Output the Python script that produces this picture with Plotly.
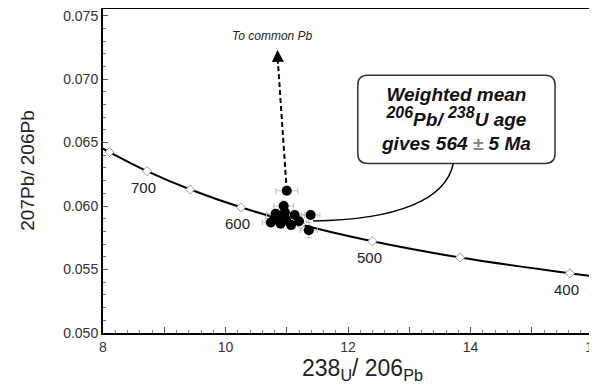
import plotly.graph_objects as go

# Concordia reference points (Tera-Wasserburg)
conc_age = [760, 750, 700, 650, 600, 550, 500, 450, 400, 391]
conc_x = [8.00, 8.105, 8.718, 9.426, 10.252, 11.228, 12.399, 13.831, 15.621, 16.00]
conc_y = [0.06453, 0.06425, 0.06275, 0.06130, 0.05990, 0.05854, 0.05722, 0.05594, 0.05470, 0.05447]
marked_ages = [750, 700, 650, 600, 550, 500, 450, 400]
labelled_ages = [700, 600, 500, 400]

# Zircon analyses
pt_x = [11.00, 10.95, 10.82, 10.97, 11.13, 11.39, 10.74, 10.90, 11.07, 11.36, 10.88, 10.99, 10.80, 11.20]
pt_y = [0.0612, 0.0600, 0.0594, 0.0595, 0.0593, 0.0593, 0.0587, 0.0586, 0.0585, 0.0581, 0.0591, 0.0589, 0.0590, 0.0588]
pt_ex = [0.18, 0.16, 0.15, 0.16, 0.16, 0.15, 0.14, 0.15, 0.15, 0.14, 0.15, 0.15, 0.15, 0.16]
pt_ey = [0.0003, 0.0004, 0.0003, 0.0003, 0.0003, 0.0003, 0.0003, 0.0003, 0.0003, 0.0006, 0.0003, 0.0003, 0.0003, 0.0003]

x_ticks = [8, 9, 10, 11, 12, 13, 14, 15, 16]
x_ticktext = ["8", "", "10", "", "12", "", "14", "", "16"]
y_ticks = [0.050, 0.055, 0.060, 0.065, 0.070, 0.075]

fig = go.Figure()

fig.add_trace(go.Scatter(
    x=conc_x, y=conc_y, mode="lines", line=dict(color="black", width=2, shape="spline"),
    hoverinfo="skip", showlegend=False))

mx = [conc_x[conc_age.index(a)] for a in marked_ages]
my = [conc_y[conc_age.index(a)] for a in marked_ages]
fig.add_trace(go.Scatter(
    x=mx, y=my, mode="markers",
    marker=dict(symbol="diamond", size=7, color="white", line=dict(color="#999", width=1)),
    showlegend=False))

fig.add_trace(go.Scatter(
    x=pt_x, y=pt_y, mode="markers",
    marker=dict(size=10, color="black"),
    error_x=dict(type="data", array=pt_ex, color="#bbb", thickness=1, width=3),
    error_y=dict(type="data", array=pt_ey, color="#bbb", thickness=1, width=3),
    showlegend=False))

for a in labelled_ages:
    i = conc_age.index(a)
    fig.add_annotation(x=conc_x[i], y=conc_y[i], text=str(a), showarrow=False,
                       yshift=-16, xshift=-3, font=dict(size=15, color="#222"))

# dashed line to common Pb
fig.add_shape(type="line", x0=pt_x[0], y0=pt_y[0], x1=10.858, y1=0.0712,
              line=dict(color="black", width=2, dash="5px,3px"))
fig.add_annotation(x=10.85, y=0.0723, ax=10.857, ay=0.0711, axref="x", ayref="y",
                   showarrow=True, arrowhead=2, arrowsize=1.2, arrowwidth=2, text="",
                   arrowcolor="black")
fig.add_annotation(x=10.77, y=0.0734, text="<i>To common Pb</i>", showarrow=False,
                   font=dict(size=12, color="#222"))

# callout box
x1, x2, yb, yt = 12.16, 15.38, 0.06336, 0.07031
rx, ry = 0.16, 0.00078
path = (f"M {x1+rx},{yt} L {x2-rx},{yt} Q {x2},{yt} {x2},{yt-ry} L {x2},{yb+ry} "
        f"Q {x2},{yb} {x2-rx},{yb} L {x1+rx},{yb} Q {x1},{yb} {x1},{yb+ry} "
        f"L {x1},{yt-ry} Q {x1},{yt} {x1+rx},{yt} Z")
fig.add_shape(type="path", path=path, line=dict(color="#333", width=1.5), fillcolor="white")
fig.add_shape(type="path",
              path="M 13.72,0.06336 C 13.6,0.0605 12.8,0.0589 11.43,0.05883",
              line=dict(color="black", width=1.5))
fig.add_annotation(x=13.77, y=0.06688,
                   text="<b><i>Weighted mean<br>"
                        "<sup><span style='font-size:16px'>206</span></sup>Pb/ "
                        "<sup><span style='font-size:16px'>238</span></sup>U age<br>"
                        "gives 564 <span style='color:#888'>±</span> 5 Ma</i></b>",
                   showarrow=False, font=dict(size=19, color="#111"), align="center")

# x axis title (placed slightly right of centre, as in the original)
fig.add_annotation(xref="paper", yref="paper", x=0.53, y=0, yanchor="top", yshift=-20,
                   text="238<sub>U</sub>/ 206<sub>Pb</sub>", showarrow=False,
                   font=dict(size=23, color="#222"))

# right border
fig.add_shape(type="line", xref="paper", yref="paper", x0=1, x1=1, y0=0, y1=1,
              line=dict(color="#bbb", width=1.5))

fig.update_xaxes(range=[8, 16], tickvals=x_ticks, ticktext=x_ticktext,
                 ticks="inside", ticklen=6, tickcolor="#555",
                 minor=dict(dtick=0.2, ticks="inside", ticklen=3, tickcolor="#777"),
                 showline=True, linecolor="black", linewidth=2, mirror=False,
                 showgrid=False, zeroline=False, automargin=False,
                 ticklabeloverflow="allow",
                 tickfont=dict(size=14, color="#333"))
fig.update_yaxes(range=[0.050, 0.0756], tickvals=y_ticks, tickformat=".3f",
                 ticks="inside", ticklen=5, tickcolor="#555",
                 minor=dict(dtick=0.001, ticks="inside", ticklen=3, tickcolor="#777"),
                 showline=True, linecolor="black", linewidth=2, mirror=False,
                 showgrid=False, zeroline=False, automargin=False,
                 ticklabeloverflow="allow",
                 tickfont=dict(size=14, color="#333"),
                 title=dict(text="207Pb/ 206Pb", font=dict(size=19, color="#222"),
                            standoff=24))
fig.add_shape(type="line", xref="paper", yref="paper", x0=0, x1=1, y0=1, y1=1,
              line=dict(color="black", width=2))

# the page body has an 8px margin, so the figure is sized to fill the rest of the window
fig.update_layout(width=589, height=377, margin=dict(l=95, r=4, t=0, b=52),
                  plot_bgcolor="white", paper_bgcolor="white",
                  font=dict(family="Liberation Sans, Arial, sans-serif"))

fig.write_html("out.html")
